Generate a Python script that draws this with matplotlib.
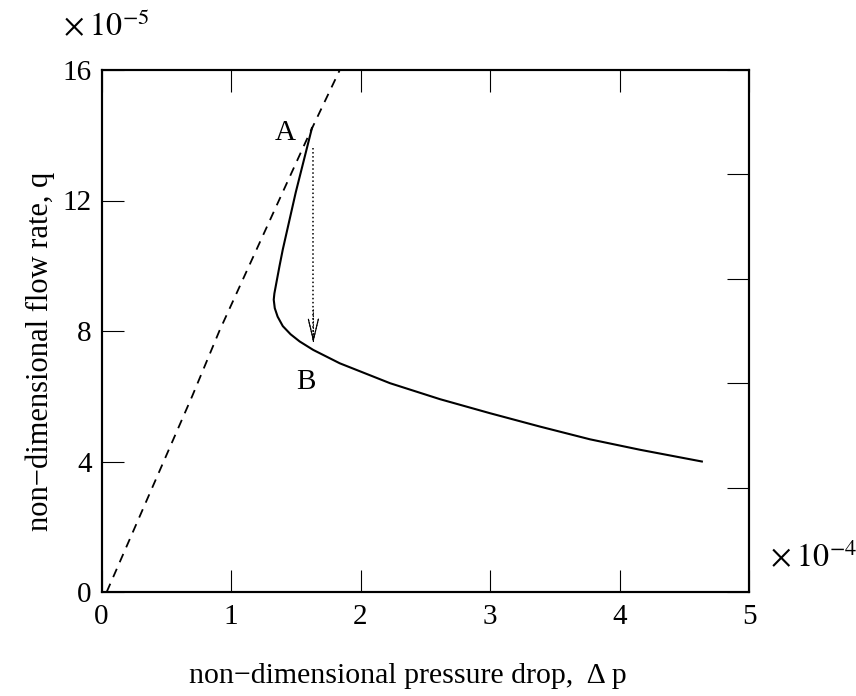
import matplotlib
matplotlib.use("Agg")
import matplotlib.pyplot as plt

plt.rcParams['font.family'] = ['Liberation Serif', 'DejaVu Serif']
plt.rcParams['mathtext.fontset'] = 'stix'

# dashed branch, x in 1e-4, y in 1e-5
dashed_dp = [0.04, 0.26, 0.48, 0.70, 0.91, 1.14, 1.37, 1.60, 1.84]
dashed_q = [0, 2, 4, 6, 8, 10, 12, 14, 16]

# solid branch from A round the nose to the end
solid_dp = [1.625, 1.50, 1.40, 1.375, 1.35, 1.335, 1.33, 1.338, 1.36, 1.40,
            1.46, 1.53, 1.635, 1.84, 2.228, 2.614, 3.0, 3.386, 3.772, 4.158, 4.636]
solid_q = [14.22, 12.25, 10.5, 10.0, 9.47, 9.15, 8.96, 8.7, 8.44, 8.15,
           7.9, 7.68, 7.42, 7.01, 6.40, 5.91, 5.48, 5.07, 4.68, 4.36, 4.0]

# jump from A down to B
jump_dp = [1.636, 1.636]
jump_q = [13.6, 7.65]

label_A = (1.42, 14.07)
label_B = (1.58, 6.45)

xticks = [0, 1, 2, 3, 4, 5]
yticks = [0, 4, 8, 12, 16]
right_ticks = [0, 3.2, 6.4, 9.6, 12.8, 16]

W, H = 856, 696
fig = plt.figure(figsize=(W / 100, H / 100), dpi=100)
ax = fig.add_axes([101.5 / W, 1 - 592 / H, (749 - 101.5) / W, (592 - 70) / H])

ax.plot(dashed_dp, dashed_q, color='black', linestyle=(0, (5, 4)), linewidth=1.3)
ax.plot(solid_dp, solid_q, color='black', linewidth=1.5)
ax.plot(jump_dp, jump_q, color='black', linestyle=':', linewidth=1.1)
ax.annotate('', xy=(jump_dp[1], jump_q[1]), xytext=(jump_dp[1], jump_q[1] + 1.0),
            arrowprops=dict(arrowstyle='->,head_length=1.5,head_width=0.36',
                            color='black', lw=0.8, linestyle=':',
                            shrinkA=0, shrinkB=0))
ax.annotate('', xy=(jump_dp[1], jump_q[1]), xytext=(jump_dp[1], jump_q[1] + 0.05),
            arrowprops=dict(arrowstyle='->,head_length=1.5,head_width=0.36',
                            color='black', lw=0.8, shrinkA=0, shrinkB=0))

ax.text(label_A[0], label_A[1], 'A', fontsize=21, ha='center', va='center')
ax.text(label_B[0], label_B[1], 'B', fontsize=21, ha='center', va='center')

ax.set_xlim(0, 5)
ax.set_ylim(0, 16)
ax.set_xticks(xticks)
ax.set_yticks(yticks)
ax.tick_params(direction='in', length=16, width=0.8, labelsize=21, top=True)
ax.tick_params(axis='x', pad=9)
ax.tick_params(axis='y', pad=7)
for s in ax.spines.values():
    s.set_linewidth(1.5)

ax2 = ax.twinx()
ax2.set_ylim(0, 16)
ax2.set_yticks(right_ticks)
ax2.set_yticklabels([])
ax2.tick_params(direction='in', length=16, width=0.8)
for s in ax2.spines.values():
    s.set_linewidth(1.5)

fig.text(408 / W, 1 - 683 / H, 'non\u2212dimensional pressure drop,  \u0394 p',
         fontsize=21.5, ha='center', va='baseline')
fig.text(40 / W, 1 - 351 / H, 'non\u2212dimensional flow rate, q',
         fontsize=22, ha='center', va='center', rotation=90)
fig.text(63 / W, 1 - 35 / H, r'$\times\;10^{-5}$', fontsize=23, ha='left', va='baseline')
fig.text(770 / W, 1 - 567 / H, r'$\times\;10^{-4}$', fontsize=23, ha='left', va='baseline')

fig.savefig('out.png', dpi=100)
